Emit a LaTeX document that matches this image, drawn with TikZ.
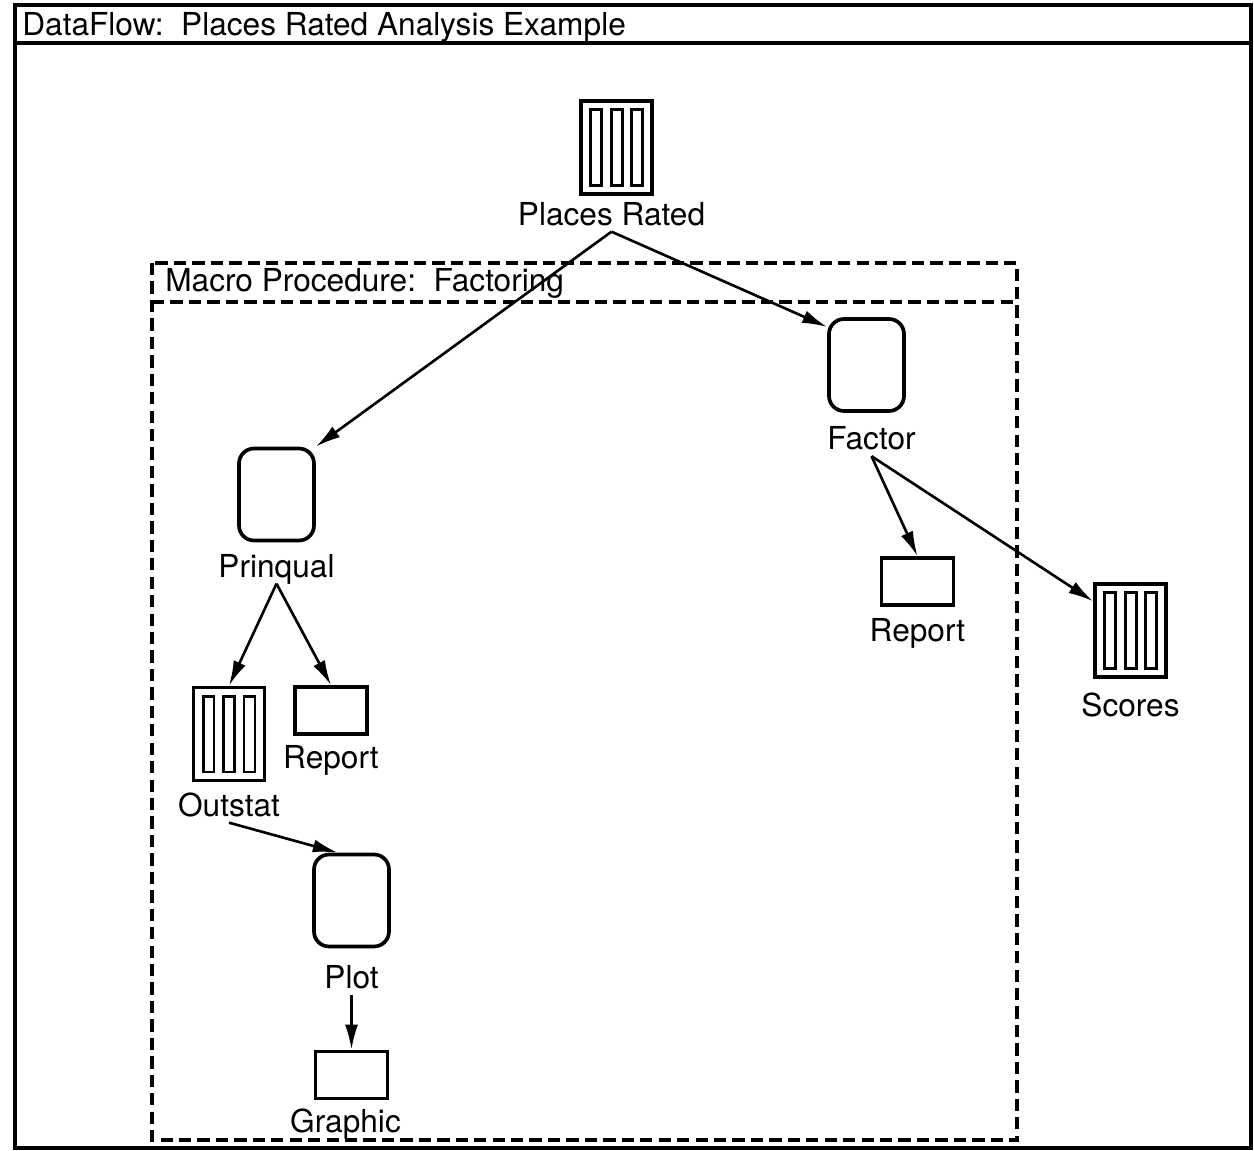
\documentclass[tikz,border=0pt]{standalone}
\usepackage{fontspec}
\setmainfont{TeX Gyre Heros}
\usetikzlibrary{positioning, arrows.meta}

\begin{document}
\begin{tikzpicture}[
	x=0.02cm, y=-0.02cm,
	font=\fontsize{18}{21}\selectfont,
	store/.style={rectangle, draw, line width=2.1pt, inner sep=0pt, minimum width=14.2mm, minimum height=18.6mm,
	path picture={\foreach \dx in {-4.1,0,4.1}
		\draw[line width=1.7pt] ([xshift=\dx mm]path picture bounding box.center) +(-1.1mm,-7.6mm) rectangle +(1.1mm,7.6mm);}},
	proc/.style={rectangle, draw, line width=2.1pt, rounded corners=3mm, minimum width=15mm, minimum height=18.4mm},
	rep/.style={rectangle, draw, line width=2.1pt, minimum width=14.4mm, minimum height=9.4mm},
	mylabel/.style={inner sep=3.5pt, text height=13pt, text depth=0pt},
	frame/.style={line width=2pt},
	macro/.style={line width=2pt, dash pattern=on 7pt off 3.5pt},
	>={Latex[length=5mm, width=2.6mm]}
]

\useasboundingbox (0,0) rectangle (1254,1151);

% outer window and title bar
\draw[frame] (15,5) rectangle (1251,1148);
\draw[frame] (15,43) -- (1251,43);
\node[inner sep=0pt, anchor=base west] (title) at (22,36) {DataFlow:\ \ Places Rated Analysis Example};

% macro procedure box
\draw[macro] (152,263) rectangle (1017,1140);
\draw[macro] (152,302) -- (1017,302);
\node[inner sep=0pt, anchor=base west] (macrolbl) at (165,292) {Macro Procedure:\ \ Factoring};

% data sets, procedures and reports
\node[store] (places) at (616.5,147.5) {};
\node[proc] (factor) at (866.5,365) {};
\node[proc] (prinqual) at (276.5,494.5) {};
\node[store] (outstat) at (229,734) {};
\node[rep] (prinrep) at (331,710.5) {};
\node[proc] (plot) at (351.5,900.5) {};
\node[rep] (graphic) at (351.5,1075) {};
\node[rep] (factrep) at (917.5,581.5) {};
\node[store] (scores) at (1130.5,630.5) {};

\node[mylabel, below=0mm of places, xshift=-1mm] (placeslbl) {Places Rated};
\node[mylabel, below=1.5mm of factor, xshift=1mm] (factorlbl) {Factor};
\node[mylabel, below=1.1mm of prinqual] (prinquallbl) {Prinqual};
\node[mylabel, below=0.9mm of outstat] (outstatlbl) {Outstat};
\node[mylabel, below=0.7mm of prinrep] (prinreplbl) {Report};
\node[mylabel, below=2.2mm of plot] (plotlbl) {Plot};
\node[mylabel, below=0.5mm of graphic, xshift=-1.2mm] (graphiclbl) {Graphic};
\node[mylabel, below=1.1mm of factrep] (factreplbl) {Report};
\node[mylabel, below=1.6mm of scores] (scoreslbl) {Scores};

\foreach \i/\j in {placeslbl.south/prinqual.north east, placeslbl.south/factor.136, factorlbl.south/factrep.north, factorlbl.south/scores.142, prinquallbl.south/outstat.north, prinquallbl.south/prinrep.north, outstatlbl.south/plot.106, plotlbl.south/graphic.north}
	\draw[->, line width=1.5pt] (\i) -- (\j);

\end{tikzpicture}
\end{document}
